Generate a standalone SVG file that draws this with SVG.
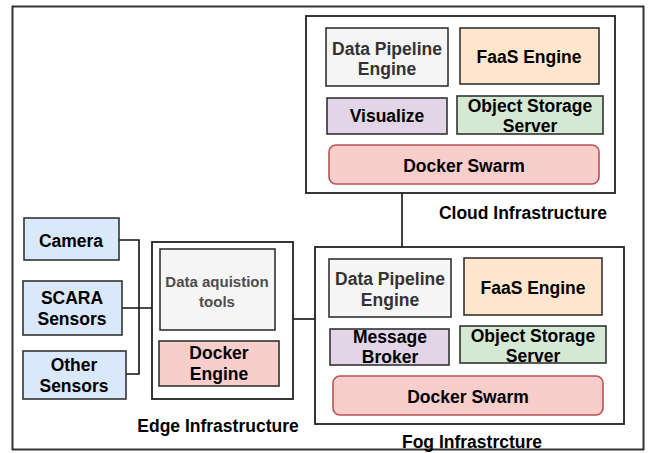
<svg xmlns="http://www.w3.org/2000/svg" width="656" height="453" viewBox="0 0 656 453">
<style>
text{font-family:"Liberation Sans",Arial,sans-serif;font-weight:bold;font-size:17.5px;text-anchor:middle;fill:#000}
.box{stroke:#333;stroke-width:1.6}
.frame{fill:#fff;stroke:#222;stroke-width:1.8}
.grey{fill:#f5f5f5}
.orange{fill:#ffe6cc}
.purple{fill:#e1d5e7}
.green{fill:#d5e8d4}
.red{fill:#f8cecc}
.blue{fill:#dae8fc}
.swarm{fill:#f8cecc;stroke:#b85450;stroke-width:1.6}
.gt{fill:#333}
.st{fill:#4d4d4d;font-size:15px}
.conn{fill:none;stroke:#111;stroke-width:1.6}
</style>
<rect id="outer" x="12.5" y="6.5" width="631" height="443" fill="#fff" stroke="#333" stroke-width="2"/>
<g id="connectors">
<path class="conn" d="M119 240 H139 V374 H126"/>
<path class="conn" d="M122 308 H160"/>
<path class="conn" d="M293 319 H316"/>
<path class="conn" d="M402 193 V247"/>
</g>
<g id="cloud">
<rect class="frame" x="306" y="16" width="309" height="177"/>
<text x="523" y="219">Cloud Infrastructure</text>
</g>
<g id="cloud-dpe"><rect class="box grey" x="326" y="28" width="122" height="58"/><text class="gt" x="387" y="55">Data Pipeline</text><text class="gt" x="387" y="75">Engine</text></g>
<g id="cloud-faas"><rect class="box orange" x="460" y="28" width="139" height="56"/><text x="529" y="63">FaaS Engine</text></g>
<g id="cloud-visualize"><rect class="box purple" x="327" y="98" width="120" height="36"/><text x="387" y="122">Visualize</text></g>
<g id="cloud-oss"><rect class="box green" x="457" y="96" width="146" height="38"/><text x="530" y="112">Object Storage</text><text x="530" y="132">Server</text></g>
<g id="cloud-swarm"><rect class="swarm" x="329" y="145" width="270" height="39" rx="7"/><text x="464" y="172">Docker Swarm</text></g>

<g id="fog">
<rect class="frame" x="315" y="247" width="309" height="177"/>
<text x="472" y="448">Fog Infrastrcture</text>
</g>
<g id="fog-dpe"><rect class="box grey" x="329" y="259" width="122" height="58"/><text class="gt" x="390" y="285">Data Pipeline</text><text class="gt" x="390" y="306">Engine</text></g>
<g id="fog-faas"><rect class="box orange" x="464" y="258" width="138" height="57"/><text x="533" y="294">FaaS Engine</text></g>
<g id="fog-broker"><rect class="box purple" x="330" y="329" width="119" height="36"/><text x="390" y="343">Message</text><text x="390" y="363">Broker</text></g>
<g id="fog-oss"><rect class="box green" x="460" y="326" width="146" height="37"/><text x="533" y="342">Object Storage</text><text x="533" y="362">Server</text></g>
<g id="fog-swarm"><rect class="swarm" x="333" y="376" width="270" height="39" rx="7"/><text x="468" y="403">Docker Swarm</text></g>

<g id="edge">
<rect class="frame" x="152" y="242" width="141" height="157"/>
<text x="218" y="432">Edge Infrastructure</text>
</g>
<g id="edge-daq"><rect class="box grey" x="160" y="249" width="115" height="81"/><text class="st" x="217" y="287">Data aquistion</text><text class="st" x="217" y="307">tools</text></g>
<g id="edge-docker"><rect class="box red" x="159" y="341" width="120" height="45"/><text x="219" y="359">Docker</text><text x="219" y="380">Engine</text></g>

<g id="camera"><rect class="box blue" x="24" y="218" width="95" height="42"/><text x="71" y="247">Camera</text></g>
<g id="scara"><rect class="box blue" x="23" y="281" width="99" height="54"/><text x="72" y="304">SCARA</text><text x="72" y="325">Sensors</text></g>
<g id="other"><rect class="box blue" x="23" y="351" width="103" height="48"/><text x="74" y="371">Other</text><text x="74" y="392">Sensors</text></g>
</svg>
